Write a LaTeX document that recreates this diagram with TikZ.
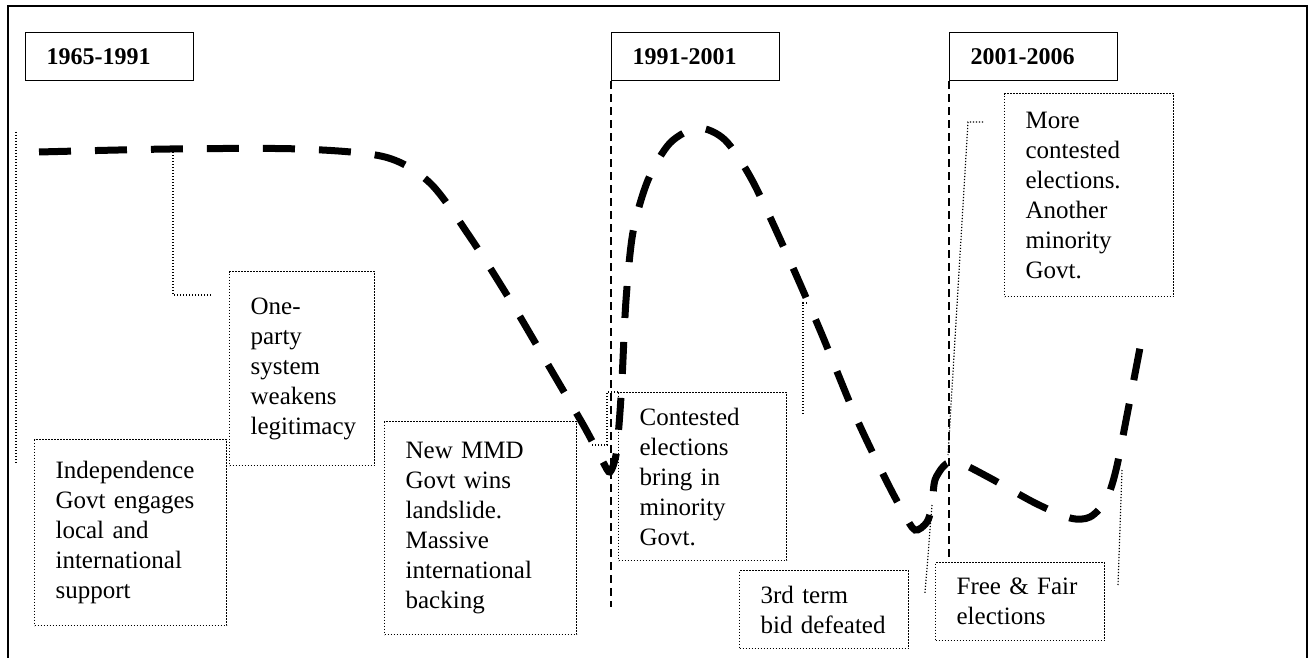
\documentclass[tikz,border=0pt]{standalone}
\usepackage{fontspec}
\setmainfont{Liberation Serif}

\tikzset{
  yearbox/.style={draw, line width=0.7pt, anchor=north west, minimum height=24pt,
    text width=63pt, inner xsep=10.5pt, align=left, font=\fontsize{12}{14}\selectfont\bfseries},
  notebox/.style={draw, line width=0.6pt, dash pattern=on 0.6pt off 0.9pt, anchor=north west,
    inner xsep=10.5pt, align=left, font=\fontsize{12.5}{15}\selectfont},
  leader/.style={line width=0.6pt, dash pattern=on 0.6pt off 0.9pt},
  guide/.style={line width=0.6pt, dash pattern=on 4pt off 2.5pt},
  trend/.style={line width=3.5pt, dash pattern=on 16pt off 12pt}
}

\begin{document}
\begin{tikzpicture}[x=0.5pt, y=-0.5pt]
  \useasboundingbox (0,0) rectangle (1311,658);

  % Frame, open at the bottom
  \draw[line width=1pt] (8,658) -- (8,6) -- (1307,6) -- (1307,658);

  % Period labels
  \foreach \name/\x/\period in {y1965/25/1965-1991, y1991/611/1991-2001, y2001/949/2001-2006}
    \node[yearbox] (\name) at (\x,32) {\period};

  % Period boundaries
  \coordinate (b1) at (611,607);
  \coordinate (b2) at (949,562);
  \draw[guide] (y1991.south west) -- (b1);
  \draw[guide] (y2001.south west) -- (b2);

  % Event boxes
  \node[notebox, text width=75pt, minimum height=93pt] (indep) at (34,439)
    {Independence\\Govt engages\\local and\\international\\support};
  \node[notebox, text width=51.5pt, minimum height=97pt] (party) at (229,271)
    {One-\\party\\system\\weakens\\legitimacy};
  \node[notebox, text width=75pt, minimum height=106.5pt] (mmd) at (384,421)
    {New MMD\\Govt wins\\landslide.\\Massive\\international\\backing};
  \node[notebox, text width=63pt, minimum height=84pt] (contest) at (618,392)
    {Contested\\elections\\bring in\\minority\\Govt.};
  \node[notebox, text width=63.5pt, minimum height=39pt] (third) at (739,570)
    {3rd term\\bid defeated};
  \node[notebox, text width=63.5pt, minimum height=39pt] (fair) at (935,562)
    {Free \& Fair\\elections};
  \node[notebox, text width=63.5pt, minimum height=101.5pt] (more) at (1004,93)
    {More\\contested\\elections.\\Another\\minority\\Govt.};

  % Trend of legitimacy
  \draw[trend] plot[smooth, tension=0.5] coordinates {
    (39,152) (170,149) (300,149) (385,157) (430,183) (470,237) (510,300)
    (550,368) (585,428) (603,462) (610,472)
    (616,455) (619,425) (622,380) (626,300) (633,232) (648,180) (670,143)
    (698,128) (725,140) (752,180) (785,250) (820,330) (855,415) (885,478)
    (903,512) (915,530)
    (927,522) (932,505) (935,480) (946,464) (960,463) (990,478) (1035,503)
    (1070,518) (1090,517) (1106,500) (1116,470) (1128,410) (1143,332)};

  % Leaders
  \coordinate (l1) at (16,132);
  \coordinate (l2) at (16,463);
  \draw[leader] (l1) -- (l2);

  \coordinate (t1) at (173,152);
  \coordinate (p1) at (212,295);
  \draw[leader] (t1) |- (p1);

  \coordinate (t2) at (592,445);
  \draw[leader] (t2) -- (607,445) |- (contest.north west);

  \coordinate (t3) at (807,303);
  \coordinate (p3) at (803,415);
  \draw[leader] (t3) -- (803,303) -- (p3);

  \coordinate (t4) at (932,505);
  \coordinate (p4) at (925,593);
  \draw[leader] (t4) -- (p4);

  \coordinate (t5) at (948,455);
  \coordinate (p5) at (983,122);
  \draw[leader] (p5) -- (968,122) -- (t5);

  \coordinate (t6) at (1122,470);
  \coordinate (p6) at (1118,585);
  \draw[leader] (t6) -- (p6);

\end{tikzpicture}
\end{document}
